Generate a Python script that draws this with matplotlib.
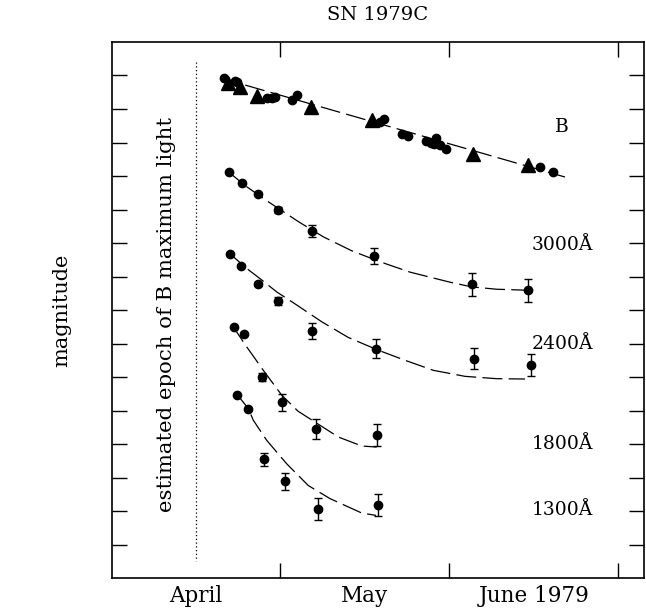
import matplotlib
matplotlib.use('Agg')
import matplotlib.pyplot as plt
import numpy as np

plt.rcParams['font.family'] = 'DejaVu Serif'

# x: days after 1 April 1979, y: magnitude (arbitrary offset, 1 unit per tick)
b_circ_day = [4.97, 6.92, 7.28, 12.55, 13.44, 14.02, 16.99, 17.98, 32.66, 33.37,
              36.52, 37.69, 40.84, 41.67, 42.61, 42.25, 43.32, 44.38, 61.07, 63.32]
b_circ_mag = [1.06, 1.15, 1.19, 1.67, 1.67, 1.64, 1.73, 1.58, 2.40, 2.30,
              2.74, 2.82, 2.97, 3.02, 2.86, 3.04, 3.07, 3.20, 3.72, 3.89]
b_tri_day = [5.63, 7.81, 10.88, 20.42, 31.19, 49.23, 58.99]
b_tri_mag = [1.23, 1.33, 1.60, 1.93, 2.32, 3.34, 3.67]
b_fit_day = [4.26, 65.5]
b_fit_mag = [1.07, 4.03]

uv3000_day = [5.86, 8.11, 11.06, 14.61, 20.65, 31.60, 49.05, 59.0]
uv3000_mag = [3.89, 4.22, 4.54, 5.01, 5.64, 6.38, 7.23, 7.41]
uv3000_err = [0.0, 0.0, 0.0, 0.08, 0.18, 0.24, 0.34, 0.35]
uv3000_fit_day = [5.33, 9.0, 12.84, 18.16, 22.54, 27.62, 32.66, 38.0, 45.1, 48.94, 53.38, 58.94]
uv3000_fit_mag = [3.82, 4.32, 4.77, 5.36, 5.81, 6.23, 6.56, 6.87, 7.17, 7.31, 7.38, 7.41]

uv2400_day = [6.04, 7.99, 10.95, 14.50, 20.65, 31.90, 49.41, 59.42]
uv2400_mag = [6.33, 6.69, 7.23, 7.73, 8.62, 9.15, 9.45, 9.65]
uv2400_err = [0.0, 0.0, 0.06, 0.12, 0.24, 0.28, 0.31, 0.33]
uv2400_fit_day = [5.68, 9.0, 11.72, 14.33, 17.88, 22.31, 27.04, 32.36, 37.10, 42.12, 47.75, 53.38, 58.41]
uv2400_fit_mag = [6.27, 6.76, 7.11, 7.46, 7.85, 8.35, 8.82, 9.20, 9.50, 9.80, 9.98, 10.05, 10.06]

uv1800_day = [6.80, 8.57, 11.66, 15.21, 21.25, 32.22]
uv1800_mag = [8.52, 8.73, 10.00, 10.76, 11.56, 11.72]
uv1800_err = [0.0, 0.0, 0.13, 0.24, 0.30, 0.33]
uv1800_fit_day = [6.39, 9.0, 11.95, 15.21, 18.11, 22.01, 25.26, 29.42, 32.08]
uv1800_fit_mag = [8.45, 9.10, 9.80, 10.54, 11.02, 11.44, 11.79, 12.06, 12.09]

uv1300_day = [7.33, 9.28, 12.07, 15.75, 21.60, 32.36]
uv1300_mag = [10.54, 10.94, 12.46, 13.11, 13.93, 13.81]
uv1300_err = [0.0, 0.0, 0.19, 0.25, 0.33, 0.33]
uv1300_fit_day = [7.10, 9.28, 10.17, 12.55, 16.10, 19.94, 23.79, 29.42, 31.95]
uv1300_fit_mag = [10.48, 10.94, 11.29, 11.89, 12.59, 13.24, 13.63, 14.06, 14.13]

band_labels = ['B', '3000Å', '2400Å', '1800Å', '1300Å']
band_label_mag = [2.53, 6.06, 9.00, 11.99, 13.98]

month_days = [0, 30, 60]
month_labels = ['April', 'May', 'June 1979']
mid_month_days = [15, 45, 75]

fig = plt.figure(figsize=(6.46, 6.14), dpi=100)
ax = fig.add_axes([0.1734, 0.0586, 0.8235, 0.873])

dash = dict(color='black', lw=0.9, linestyle=(0, (16, 5)))
ax.plot(b_fit_day, b_fit_mag, **dash)
ax.plot(uv3000_fit_day, uv3000_fit_mag, **dash)
ax.plot(uv2400_fit_day, uv2400_fit_mag, **dash)
ax.plot(uv1800_fit_day, uv1800_fit_mag, **dash)
ax.plot(uv1300_fit_day, uv1300_fit_mag, **dash)

ax.plot(b_circ_day, b_circ_mag, 'o', color='black', ms=6)
ax.plot(b_tri_day, b_tri_mag, '^', color='black', ms=9.5)

for d, m, e in [(uv3000_day, uv3000_mag, uv3000_err),
                (uv2400_day, uv2400_mag, uv2400_err),
                (uv1800_day, uv1800_mag, uv1800_err),
                (uv1300_day, uv1300_mag, uv1300_err)]:
    ax.errorbar(d, m, yerr=e, fmt='o', color='black', ms=6,
                elinewidth=1, capsize=3, capthick=1)

# epoch of B maximum
ax.plot([0, 0], [0.59, 15.5], color='black', lw=0.9, linestyle=(0, (1, 2)))
ax.text(-5.15, 8.12, 'estimated epoch of B maximum light', rotation=90,
        ha='center', va='center', fontsize=15.3)

for lab, m in zip(band_labels, band_label_mag):
    ax.text(65.0, m, lab, ha='center', va='center', fontsize=13.5)

ax.set_xlim(-14.91, 79.53)
ax.set_ylim(16, 0)
ax.set_yticks(np.arange(1, 16))
ax.set_yticklabels([])
ax.set_xticks(month_days)
ax.set_xticklabels(month_labels, fontsize=15.5)
ax.set_xticks(mid_month_days, minor=True)
ax.tick_params(axis='x', which='major', length=0, pad=5)
ax.tick_params(axis='x', which='minor', direction='in', length=10.8,
               width=1, top=True, bottom=True)
ax.tick_params(axis='y', which='major', direction='in', length=10.8,
               width=1, left=True, right=True)
ax.yaxis.set_minor_locator(matplotlib.ticker.NullLocator())
for s in ax.spines.values():
    s.set_linewidth(1.2)

ax.set_title('SN 1979C', fontsize=14, pad=16)
ax.set_ylabel('magnitude', fontsize=15, labelpad=26)

plt.savefig('out.png', dpi=100)
